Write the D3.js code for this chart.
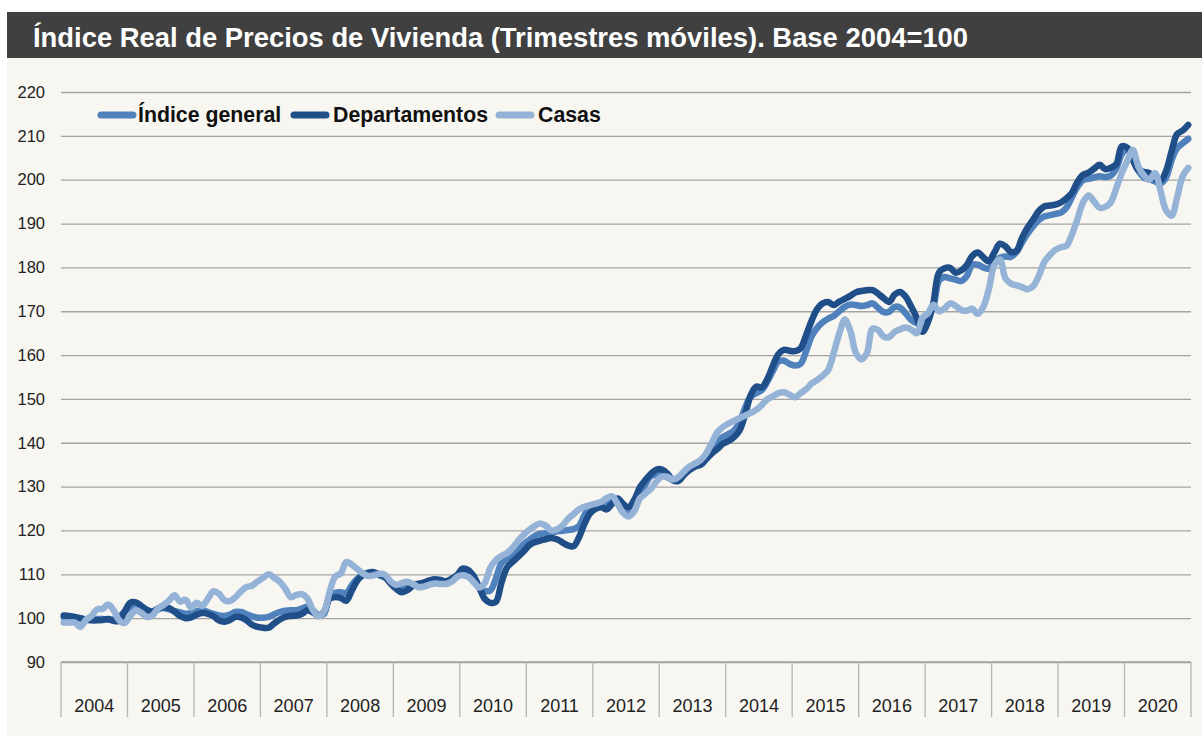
<!DOCTYPE html>
<html><head><meta charset="utf-8">
<script src="https://cdn.jsdelivr.net/npm/d3@7"></script>
<style>
body{margin:0;background:#ffffff}
svg{display:block}
text{font-family:"Liberation Sans",Arial,Helvetica,sans-serif}
</style></head>
<body><svg id="chart" width="1202" height="736"></svg>
<script>
const title = "Índice Real de Precios de Vivienda (Trimestres móviles). Base 2004=100";
const years = [2004,2005,2006,2007,2008,2009,2010,2011,2012,2013,2014,2015,2016,2017,2018,2019,2020];
const yTicks = [90,100,110,120,130,140,150,160,170,180,190,200,210,220];
const seriesNames = ["Índice general","Departamentos","Casas"];

const indiceGeneral = [
100.2,100.2,100.0,99.9,99.7,99.7,99.8,99.8,99.7,99.7,100.3,101.5,
102.3,102.0,101.3,100.8,101.2,102.0,102.3,102.0,101.6,101.3,101.0,101.2,
101.6,101.8,101.4,101.0,100.6,100.5,100.8,101.4,101.4,100.9,100.4,100.1,
100.1,100.3,100.9,101.4,101.7,101.8,101.8,102.2,102.6,101.8,100.7,101.0,
105.0,105.8,105.9,105.7,107.5,109.0,109.8,110.2,110.2,109.8,109.2,108.2,
107.3,106.8,107.2,107.7,107.8,108.0,108.2,108.3,108.1,108.3,109.0,109.7,
110.2,109.8,108.3,107.0,106.2,106.3,109.0,112.5,113.5,114.4,115.5,116.8,
117.8,118.7,119.2,119.4,119.5,119.8,119.9,120.1,120.3,121.0,123.5,125.4,
125.8,126.1,126.2,126.5,127.0,125.3,123.5,124.8,128.5,130.5,132.4,132.7,
132.6,132.1,131.6,131.9,133.2,134.2,134.9,135.4,136.9,138.9,140.3,141.3,
142.0,142.8,144.6,148.0,150.5,151.3,152.0,153.9,156.3,158.5,158.7,158.0,
157.6,158.0,160.8,164.3,166.2,167.5,168.3,168.9,170.0,171.0,171.5,171.4,
171.2,171.4,171.8,170.8,169.8,169.9,171.0,170.8,169.5,168.0,167.3,168.0,
168.8,171.0,177.0,177.8,177.5,177.2,176.9,178.0,180.6,180.6,180.0,179.7,
181.2,182.2,182.5,182.4,183.5,185.7,187.7,189.4,190.8,191.6,191.9,192.2,
192.5,193.6,196.0,198.4,199.9,200.2,200.5,200.8,200.6,200.9,202.5,205.8,
207.0,205.0,202.0,200.5,200.1,199.6,199.2,200.5,204.5,207.2,208.3,209.3
];
const departamentos = [
100.6,100.5,100.3,100.0,99.6,99.5,99.5,99.6,99.8,99.4,99.4,101.5,
103.5,103.6,102.8,101.9,101.5,102.2,102.5,102.3,101.5,100.5,100.0,100.2,
100.8,101.2,101.0,100.5,99.5,99.2,99.6,100.3,100.2,99.5,98.5,98.0,
97.8,97.8,98.8,99.7,100.3,100.5,100.6,101.0,101.8,101.3,100.6,101.5,
104.5,104.8,104.6,104.0,106.3,108.6,109.8,110.4,110.5,109.9,109.4,107.9,
106.7,105.9,106.4,107.3,107.8,108.1,108.6,108.9,108.7,108.4,108.9,109.8,
111.3,111.0,109.6,107.0,104.4,103.5,103.7,108.0,111.5,112.8,114.0,115.2,
116.6,117.3,117.7,118.0,118.3,118.0,117.3,116.6,116.4,118.4,121.5,123.9,
124.9,125.3,124.8,126.1,127.3,126.0,125.3,127.0,129.8,131.5,132.9,133.9,
133.9,132.9,131.4,131.3,132.7,133.8,134.6,135.0,136.3,137.6,138.6,139.8,
140.4,141.3,142.8,146.4,150.8,152.8,152.6,154.5,157.5,160.2,161.2,161.0,
160.9,161.5,164.5,167.8,170.5,171.8,172.1,171.4,172.2,172.8,173.5,174.3,
174.6,174.8,174.8,174.0,173.0,172.1,173.8,174.4,173.3,171.0,168.5,165.3,
167.5,172.0,178.8,179.8,179.9,178.8,179.3,180.5,182.6,183.4,182.3,181.4,
183.4,185.4,184.8,183.5,183.8,186.7,189.1,190.9,192.8,193.9,194.1,194.3,
194.8,195.7,197.0,199.5,201.1,201.6,202.5,203.4,202.4,202.7,203.5,207.6,
207.3,204.5,202.2,201.8,201.5,200.2,199.8,202.0,206.5,210.4,211.2,212.5
];
const casas = [
99.0,99.0,99.0,98.0,99.6,100.5,102.0,102.1,103.1,101.8,99.5,98.9,
100.5,101.8,101.2,100.3,100.6,102.2,103.0,104.0,105.2,103.8,104.2,102.4,
103.5,102.8,104.4,106.1,105.6,104.1,103.9,104.8,106.1,107.1,107.4,108.4,
109.2,110.0,109.2,108.3,106.7,104.8,105.3,105.5,104.5,101.8,100.4,101.5,
106.0,109.5,110.2,112.8,112.2,111.2,110.2,109.6,109.8,110.1,109.9,108.4,
107.6,108.0,108.3,107.8,107.1,107.2,107.6,107.9,107.8,107.8,108.3,109.4,
109.8,109.4,108.3,107.0,108.0,111.5,113.2,114.2,114.8,116.0,117.6,119.0,
120.1,121.0,121.6,121.1,120.0,120.2,121.1,122.6,123.7,124.8,125.4,125.8,
126.1,126.5,127.4,127.8,126.0,124.0,123.2,124.4,127.3,128.4,129.5,131.2,
132.3,132.2,131.6,132.2,133.5,134.6,135.3,136.1,137.6,140.0,142.4,143.6,
144.4,145.0,145.6,146.2,146.8,147.5,148.6,149.9,150.6,151.3,151.5,151.0,
150.4,151.3,152.2,153.5,154.3,155.3,156.6,160.5,164.9,168.1,165.5,160.5,
159.0,160.5,166.0,165.7,164.2,164.1,165.3,165.9,166.3,165.8,165.0,168.5,
169.5,171.5,170.0,170.6,171.8,171.2,170.3,170.1,170.6,169.4,171.0,175.0,
180.5,181.8,177.5,176.3,175.9,175.5,175.0,175.7,178.0,181.2,182.8,184.0,
184.6,184.9,187.5,191.0,194.8,196.4,195.0,193.6,193.8,194.8,198.0,201.5,
204.3,206.8,203.0,201.0,200.0,201.5,197.5,193.0,191.8,196.0,200.8,202.7
];

(function(){
const months = years.flatMap(yr => d3.range(1,13).map(m => yr + "-" + m));
const colors = {"Índice general":"#4f81bd","Departamentos":"#1f4e89","Casas":"#95b3d7"};
const data = {"Índice general":indiceGeneral,"Departamentos":departamentos,"Casas":casas};

const svg = d3.select("#chart");
const W = 1202, H = 736;
const pLeft = 61, pRight = 1191, pTop = 92, pBottom = 662;

svg.append("rect").attr("x",7).attr("y",11).attr("width",W-7).attr("height",H-11).attr("fill","#f7f6f1");
svg.append("rect").attr("x",7).attr("y",12).attr("width",W-7).attr("height",46).attr("fill","#404040");
svg.append("text").attr("x",33).attr("y",47).attr("fill","#ffffff")
  .attr("font-size",27.4).attr("font-weight","bold").text(title);

const x = d3.scaleBand().domain(months).range([pLeft,pRight]).paddingInner(0).paddingOuter(0);
const xYear = d3.scaleBand().domain(years).range([pLeft,pRight]).paddingInner(0).paddingOuter(0);
const y = d3.scaleLinear().domain([90,220]).range([pBottom,pTop]);

const yAxis = d3.axisLeft(y).tickValues(yTicks).tickSize(-(pRight-pLeft)).tickPadding(16);
const gy = svg.append("g").attr("transform",`translate(${pLeft},0)`).call(yAxis);
gy.select(".domain").remove();
gy.selectAll(".tick line").attr("stroke","#a3a3a3").attr("stroke-width",1.3);
gy.selectAll(".tick text").attr("font-size",16.5).attr("fill","#222").attr("font-family","Liberation Sans, Arial, sans-serif");

svg.append("line").attr("x1",pLeft).attr("x2",pRight).attr("y1",pBottom).attr("y2",pBottom)
  .attr("stroke","#a3a3a3").attr("stroke-width",1.3);
const bounds = years.map(yr => xYear(yr)).concat([xYear(years[years.length-1]) + xYear.bandwidth()]);
svg.append("g").selectAll("line").data(bounds).join("line")
  .attr("x1",d=>d).attr("x2",d=>d).attr("y1",pBottom).attr("y2",717)
  .attr("stroke","#b4b4b4").attr("stroke-width",1.3);
svg.append("g").selectAll("text").data(years).join("text")
  .attr("x",d=>xYear(d)+xYear.bandwidth()/2).attr("y",712)
  .attr("text-anchor","middle").attr("font-size",18).attr("fill","#222").text(d=>d);

const line = d3.line()
  .x((d,i)=>x(months[i]) + x.bandwidth()/2)
  .y(d=>y(d))
  .curve(d3.curveCatmullRom.alpha(0.5));
seriesNames.forEach(name => {
  svg.append("path").datum(data[name]).attr("d",line)
    .attr("fill","none").attr("stroke",colors[name]).attr("stroke-width",6.5)
    .attr("stroke-linejoin","round").attr("stroke-linecap","round");
});

const legendItems = [
  {name:"Índice general", lx:101, tx:138},
  {name:"Departamentos", lx:294, tx:333},
  {name:"Casas", lx:499, tx:538}
];
const lg = svg.append("g");
legendItems.forEach(it => {
  lg.append("line").attr("x1",it.lx).attr("x2",it.lx+32).attr("y1",115).attr("y2",115)
    .attr("stroke",colors[it.name]).attr("stroke-width",7).attr("stroke-linecap","round");
  lg.append("text").attr("x",it.tx).attr("y",122).attr("font-size",21.3).attr("font-weight","bold")
    .attr("fill","#111").text(it.name);
});
})();
</script></body></html>
